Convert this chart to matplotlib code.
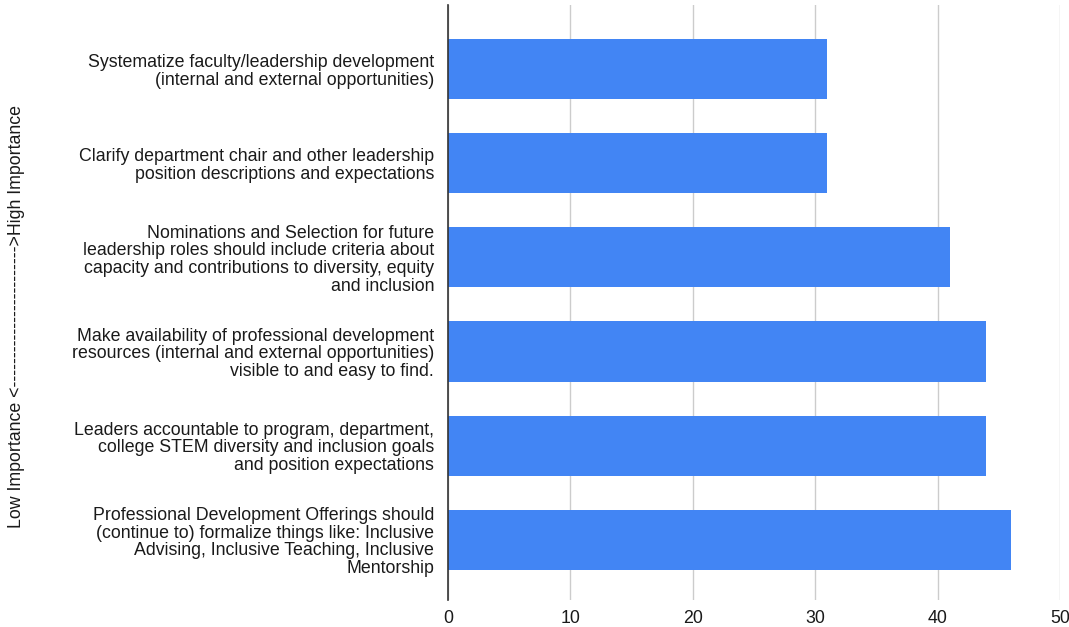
import matplotlib.pyplot as plt
import numpy as np

plt.rcParams['font.family'] = ['Liberation Sans', 'DejaVu Sans']

categories = [
    "Systematize faculty/leadership development\n(internal and external opportunities)",
    "Clarify department chair and other leadership\nposition descriptions and expectations",
    "Nominations and Selection for future\nleadership roles should include criteria about\ncapacity and contributions to diversity, equity\nand inclusion",
    "Make availability of professional development\nresources (internal and external opportunities)\nvisible to and easy to find.",
    "Leaders accountable to program, department,\ncollege STEM diversity and inclusion goals\nand position expectations",
    "Professional Development Offerings should\n(continue to) formalize things like: Inclusive\nAdvising, Inclusive Teaching, Inclusive\nMentorship",
]
counts = [31, 31, 41, 44, 44, 46]
xticks = [0, 10, 20, 30, 40, 50]

fs = 12.8
fig = plt.figure(figsize=(10.69, 6.27), dpi=100)
ax = fig.add_axes([0.419, 0.043, 0.5725, 0.949])

pos = np.arange(len(categories))
ax.barh(pos, counts, height=0.64, color='#4285F4', zorder=3)

ax.set_xlim(0, 50)
ax.set_ylim(5.64, -0.68)
ax.set_xticks(xticks)
ax.set_xticklabels([str(t) for t in xticks], fontsize=fs, color='#1a1a1a')
ax.set_yticks(pos)
ax.set_yticklabels(categories, fontsize=fs, color='#1a1a1a', ha='right',
                   multialignment='right', linespacing=1.05)
ax.tick_params(axis='both', length=0)
ax.tick_params(axis='x', pad=7)
ax.tick_params(axis='y', pad=10)

ax.grid(axis='x', color='#cccccc', linewidth=1, zorder=0)
for s in ['top', 'right', 'bottom']:
    ax.spines[s].set_visible(False)
ax.spines['left'].set_color('#333333')
ax.spines['left'].set_linewidth(1.2)
ax.spines['left'].set_zorder(4)

fig.text(0.015, 0.496, "Low Importance <" + "-" * 24 + ">High Importance",
         rotation=90, va='center', ha='center', fontsize=fs, color='#1a1a1a')

fig.savefig('out.png', dpi=100)
